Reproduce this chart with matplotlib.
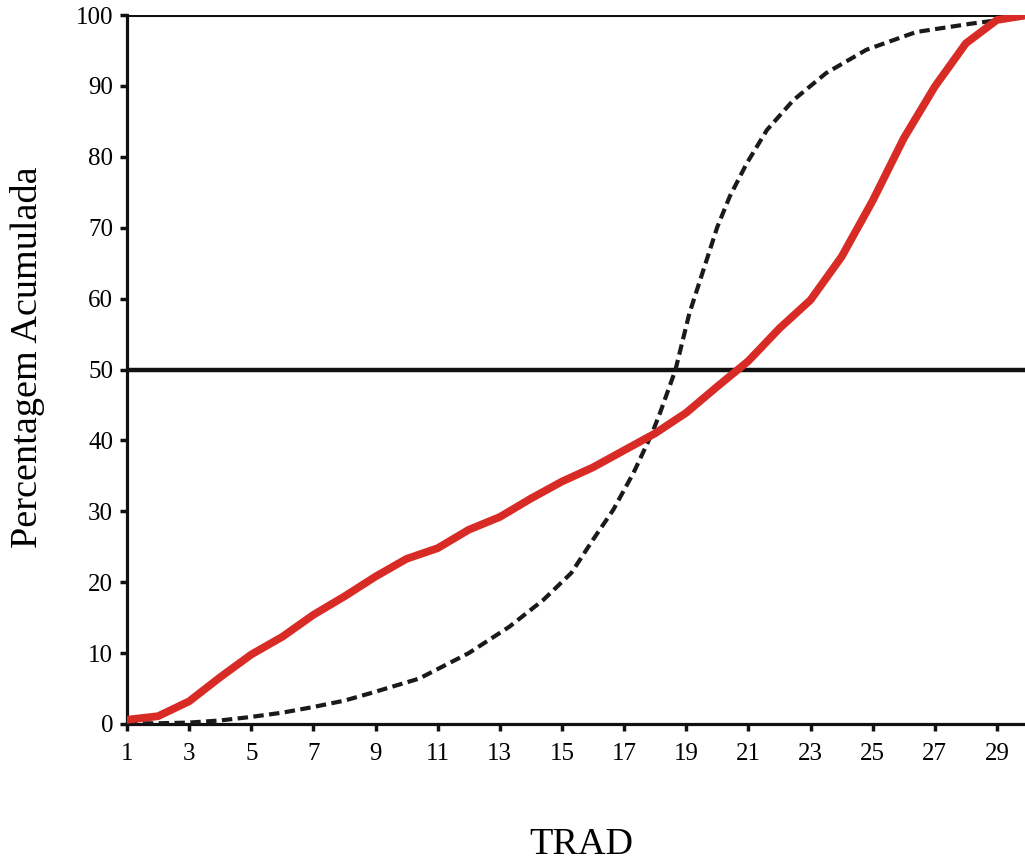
import matplotlib
matplotlib.use("Agg")
import matplotlib.pyplot as plt

# Observed cumulative percentage (red line)
trad = list(range(1, 31))
observed = [0.6, 1.1, 3.2, 6.6, 9.8, 12.3, 15.4, 18.0, 20.8, 23.3,
            24.8, 27.4, 29.2, 31.8, 34.2, 36.2, 38.6, 41.0, 43.9, 47.6,
            51.2, 55.8, 59.8, 65.9, 73.8, 82.6, 89.9, 96.0, 99.3, 100.0]

# Expected (dotted sigmoid) points
expected_x = [1, 2, 3, 4, 5, 6, 7, 8, 8.8, 10.4, 12.0, 13.3, 14.4, 15.3,
              16.0, 16.65, 17.3, 17.9, 18.15, 18.65, 19.1, 19.55, 20.0,
              20.4, 20.95, 21.6, 22.45, 23.5, 24.8, 26.4, 28.2, 30]
expected = [0.1, 0.1, 0.2, 0.5, 1.0, 1.6, 2.4, 3.3, 4.3, 6.4, 10.0, 13.7,
            17.5, 21.3, 26.0, 30.2, 35.4, 41.0, 43.8, 49.9, 57.9, 64.0,
            70.1, 74.4, 79.1, 83.8, 88.0, 91.8, 95.1, 97.6, 98.8, 99.8]

x_ticks = list(range(1, 30, 2))
y_ticks = list(range(0, 101, 10))
ref_lines = [50, 100]

plt.rcParams['font.family'] = ['Liberation Serif', 'DejaVu Serif']

fig = plt.figure(figsize=(10.25, 8.61), dpi=100)
W, H = 1025, 861
left, right, top, bottom = 127, 1028, 15, 724
ax = fig.add_axes([left / W, 1 - bottom / H, (right - left) / W, (bottom - top) / H])

for yv in ref_lines:
    ax.axhline(yv, color='#111111', lw=3.2 if yv == 50 else 2.2, zorder=2)

ax.plot(expected_x, expected, color='#1a1a1a', lw=3.0, dashes=(2.5, 1.3), zorder=3)
ax.plot(trad, observed, color='#d92b26', lw=5.6, solid_joinstyle='round', zorder=4)

ax.set_xlim(1, 30)
ax.set_ylim(0, 100)
ax.set_xticks(x_ticks)
ax.set_yticks(y_ticks)
ax.tick_params(axis='both', direction='out', length=5, width=2.5, labelsize=18, color='#111111')
ax.tick_params(axis='x', pad=9)
ax.tick_params(axis='y', pad=5)

for s in ['top', 'right']:
    ax.spines[s].set_visible(False)
for s in ['left', 'bottom']:
    ax.spines[s].set_linewidth(2.3)
    ax.spines[s].set_color('#111111')

fig.text(28 / W, 1 - 357 / H, 'Percentagem Acumulada', rotation=90,
         ha='center', va='center', fontsize=27.5)
fig.text(581 / W, 1 - 845 / H, 'TRAD', ha='center', va='center', fontsize=27.5)

fig.savefig('out.png', dpi=100)
